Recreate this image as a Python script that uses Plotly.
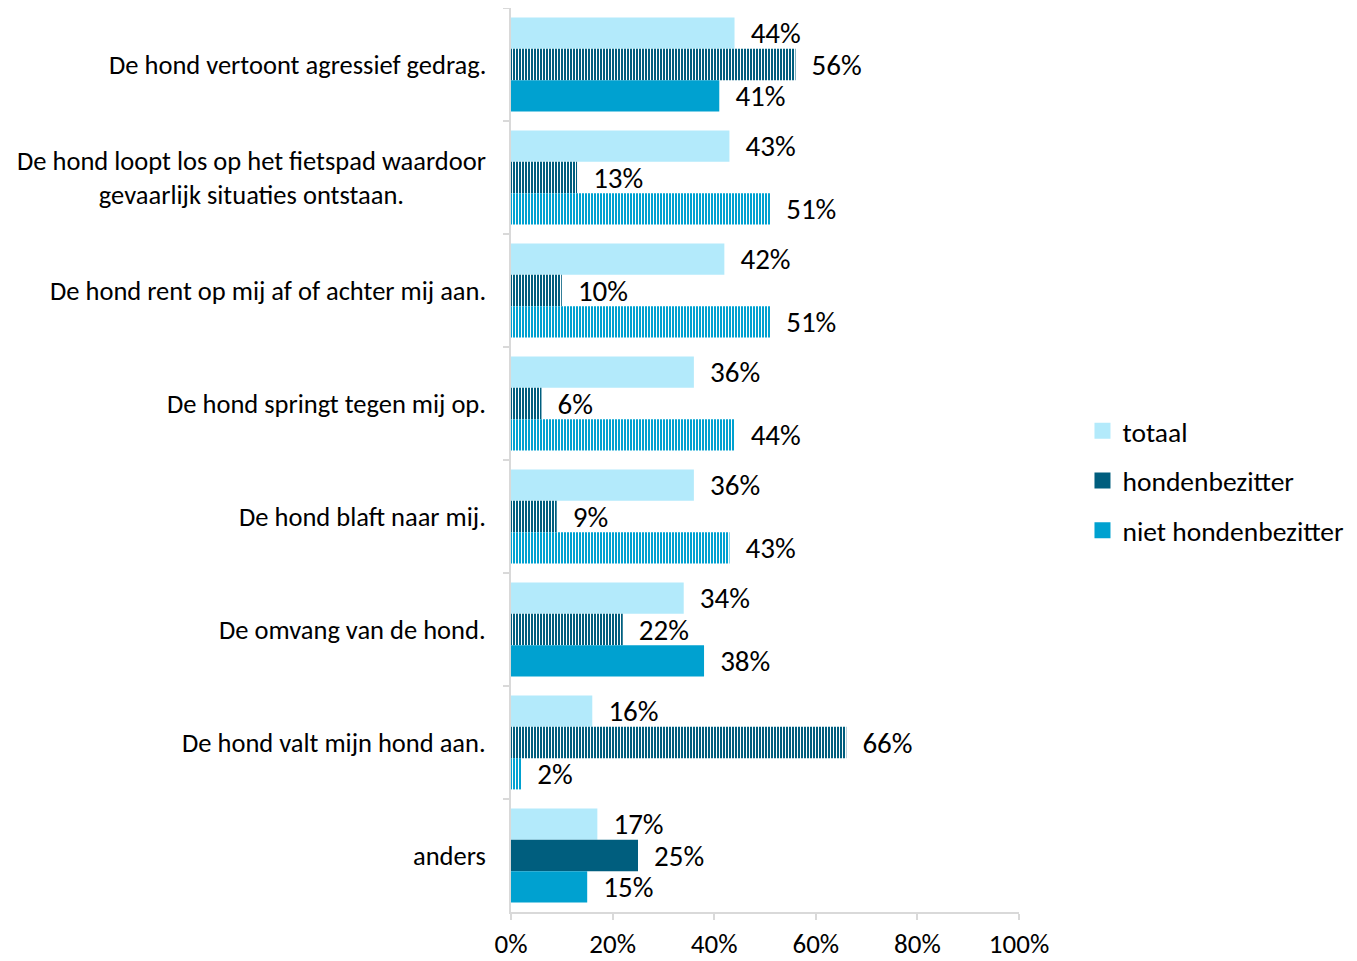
import plotly.graph_objects as go

categories = [
    "De hond vertoont agressief gedrag.",
    "De hond loopt los op het fietspad waardoor<br>gevaarlijk situaties ontstaan.",
    "De hond rent op mij af of achter mij aan.",
    "De hond springt tegen mij op.",
    "De hond blaft naar mij.",
    "De omvang van de hond.",
    "De hond valt mijn hond aan.",
    "anders",
]
totaal = [0.44, 0.43, 0.42, 0.36, 0.36, 0.34, 0.16, 0.17]
hondenbezitter = [0.56, 0.13, 0.10, 0.06, 0.09, 0.22, 0.66, 0.25]
niet_hondenbezitter = [0.41, 0.51, 0.51, 0.44, 0.43, 0.38, 0.02, 0.15]

pat_honden = ["|", "|", "|", "|", "|", "|", "|", ""]
pat_niet = ["", "|", "|", "|", "|", "", "|", ""]

series_names = ["totaal", "hondenbezitter", "niet hondenbezitter"]
colors = ["#B3EAFB", "#005E7E", "#00A1D0"]
tick_vals = [0, 0.2, 0.4, 0.6, 0.8, 1.0]
tick_text = ["0%", "20%", "40%", "60%", "80%", "100%"]

FONT = "Carlito, Calibri, Lato, Liberation Sans, Arial, sans-serif"
NB = "\u00a0"

W, H = 1349, 953

fig = go.Figure()
values = [totaal, hondenbezitter, niet_hondenbezitter]
patterns = [None, pat_honden, pat_niet]
for name, vals, col, pat in zip(series_names, values, colors, patterns):
    marker = dict(color=col, line=dict(width=0))
    if pat is not None:
        marker["pattern"] = dict(shape=pat, fillmode="overlay", bgcolor=col,
                                 fgcolor="#FFFFFF", fgopacity=1,
                                 size=3, solidity=0.34)
    fig.add_trace(go.Bar(
        y=categories, x=vals, orientation="h", name=name, marker=marker,
        text=[NB * 2 + f"{v*100:.0f}%" for v in vals],
        textposition="outside", cliponaxis=False, constraintext="none",
        textfont=dict(family=FONT, size=29, color="#000000"),
        showlegend=False,
    ))
    # legend entry
    fig.add_trace(go.Scatter(
        x=[None], y=[None], mode="markers", name=name,
        marker=dict(symbol="square", size=16, color=col),
        legendgroup=name, showlegend=True,
    ))

for c in categories:
    fig.add_annotation(
        x=0, xref="paper", y=c, yref="y", xanchor="right", yanchor="middle",
        xshift=-23, text=c, showarrow=False, align="center",
        font=dict(family=FONT, size=26.5, color="#000000"),
    )

fig.update_layout(
    width=W, height=H,
    margin=dict(l=503, r=338, t=0, b=49, autoexpand=False),
    paper_bgcolor="white", plot_bgcolor="white",
    barmode="group", bargap=0.17, bargroupgap=0,
    font=dict(family=FONT, color="#000000"),
    legend=dict(
        xref="container", yref="container", x=0.7965, y=0.5037,
        xanchor="left", yanchor="middle",
        font=dict(family=FONT, size=27.5, color="#000000"),
        tracegroupgap=11, itemwidth=30,
    ),
    xaxis=dict(
        range=[0, 1], tickvals=tick_vals, ticktext=tick_text,
        showgrid=False, zeroline=False, automargin=False,
        showline=True, linecolor="#D9D9D9", linewidth=1.5,
        ticks="outside", ticklen=6, tickcolor="#D9D9D9", tickwidth=1.5,
        ticklabelstandoff=1,
        tickfont=dict(family=FONT, size=27, color="#000000"),
    ),
    yaxis=dict(
        autorange="reversed", showticklabels=False, automargin=False,
        showgrid=False, zeroline=False,
        showline=True, linecolor="#D9D9D9", linewidth=1.5,
        ticks="outside", ticklen=6, tickcolor="#D9D9D9", tickwidth=1.5,
        tickson="boundaries",
    ),
)

fig.write_html("out.html")
